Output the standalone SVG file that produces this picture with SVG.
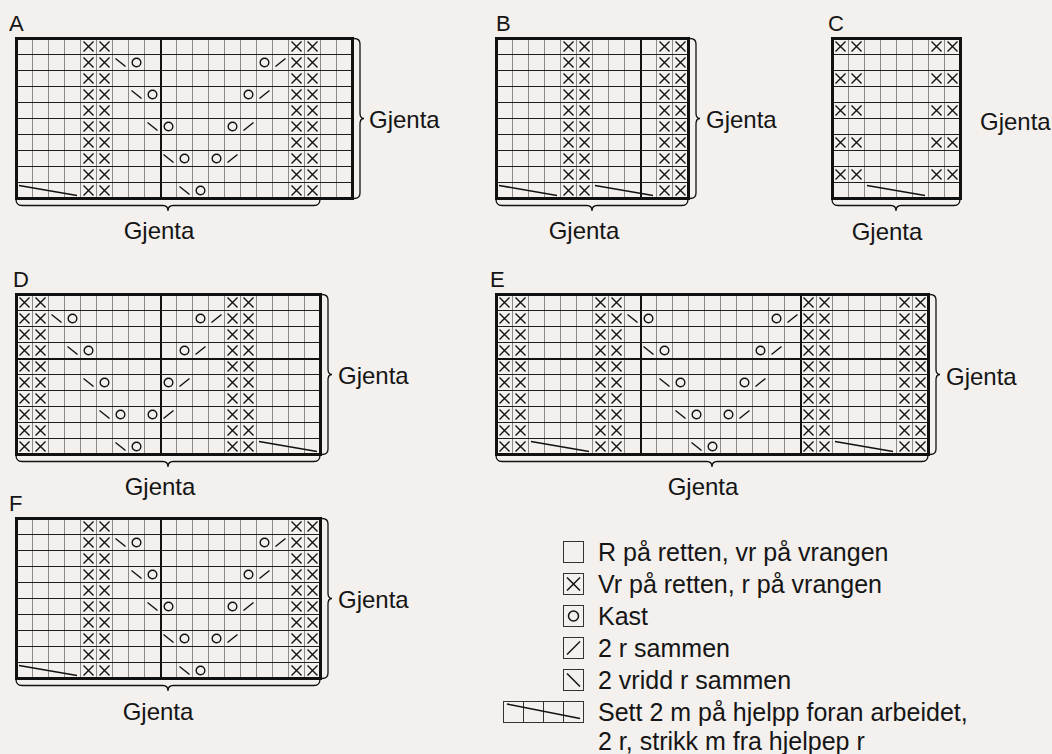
<svg xmlns="http://www.w3.org/2000/svg" xmlns:xlink="http://www.w3.org/1999/xlink" width="1052" height="754" viewBox="0 0 1052 754">
<style>
.t{font-family:"Liberation Sans",Arial,Helvetica,sans-serif;fill:#151515}
.lbl{font-size:22px}
.gj{font-size:24px}
.lg{font-size:25px}
.sym{fill:none;stroke:#111;stroke-width:1.4}
.bord{fill:none;stroke:#111;stroke-width:3}
.thk{stroke:#111;stroke-width:2}
.br{fill:none;stroke:#111;stroke-width:1.3}
.cab{stroke:#111;stroke-width:1.6}
.lbox{fill:none;stroke:#333;stroke-width:1}
.lsym{fill:none;stroke:#111;stroke-width:1.5}
</style>
<defs>
<pattern id="grid" patternUnits="userSpaceOnUse" x="0" y="6" width="16" height="16">
<rect x="0" y="0" width="1" height="16" fill="#8a8a8a"/>
<rect x="0" y="0" width="16" height="1" fill="#1e1e1e"/>
</pattern>
<path id="x" class="sym" d="M3.5,3.5L13.5,13.5M13.5,3.5L3.5,13.5"/>
<circle id="o" class="sym" cx="8.5" cy="8.5" r="4.3"/>
<path id="bs" class="sym" d="M3.5,4.5L13.5,12.5"/>
<path id="fs" class="sym" d="M3.5,12.5L13.5,4.5"/>
<path id="cab" class="cab" d="M3,3.5L61,13.5"/>
<g id="xx"><use href="#x"/><use href="#x" x="16"/></g>
<g id="xxcol"><use href="#xx"/><use href="#xx" y="16"/><use href="#xx" y="32"/><use href="#xx" y="48"/><use href="#xx" y="64"/><use href="#xx" y="80"/><use href="#xx" y="96"/><use href="#xx" y="112"/><use href="#xx" y="128"/><use href="#xx" y="144"/></g>
<g id="xxalt"><use href="#xx"/><use href="#xx" y="32"/><use href="#xx" y="64"/><use href="#xx" y="96"/><use href="#xx" y="128"/></g>
<g id="lace">
<use href="#bs" x="96" y="16"/><use href="#o" x="112" y="16"/><use href="#o" x="240" y="16"/><use href="#fs" x="256" y="16"/>
<use href="#bs" x="112" y="48"/><use href="#o" x="128" y="48"/><use href="#o" x="224" y="48"/><use href="#fs" x="240" y="48"/>
<use href="#bs" x="128" y="80"/><use href="#o" x="144" y="80"/><use href="#o" x="208" y="80"/><use href="#fs" x="224" y="80"/>
<use href="#bs" x="144" y="112"/><use href="#o" x="160" y="112"/><use href="#o" x="192" y="112"/><use href="#fs" x="208" y="112"/>
<use href="#bs" x="160" y="144"/><use href="#o" x="176" y="144"/>
</g>
</defs>
<rect width="1052" height="754" fill="#f3f0ed"/>

<g id="chart-a">
<text class="t lbl" x="9" y="31">A</text>
<rect x="16" y="38" width="336" height="160" fill="url(#grid)"/>
<use href="#xxcol" x="80" y="38"/><use href="#xxcol" x="288" y="38"/>
<use href="#lace" x="16" y="38"/>
<use href="#cab" x="16" y="182"/>
<line class="thk" x1="161" y1="38" x2="161" y2="198"/>
<rect class="bord" x="16.5" y="38.5" width="336" height="160"/>
<path class="br" d="M354,38.5Q360,38.5 360,44V113Q360,118.5 364,118.5Q360,118.5 360,124V193Q360,198.5 354,198.5"/>
<path class="br" d="M16,199Q16,205.5 22,205.5H163Q168,205.5 168,211Q168,205.5 173,205.5H314Q320,205.5 320,199"/>
<text class="t gj" x="369" y="128">Gjenta</text>
<text class="t gj" x="159" y="239" text-anchor="middle">Gjenta</text>
</g>

<g id="chart-b">
<text class="t lbl" x="496" y="31">B</text>
<rect x="496" y="38" width="192" height="160" fill="url(#grid)"/>
<use href="#xxcol" x="560" y="38"/><use href="#xxcol" x="656" y="38"/>
<use href="#cab" x="496" y="182"/><use href="#cab" x="592" y="182"/>
<line class="thk" x1="641" y1="38" x2="641" y2="198"/>
<rect class="bord" x="496.5" y="38.5" width="192" height="160"/>
<path class="br" d="M690,38.5Q696,38.5 696,44V113Q696,118.5 700,118.5Q696,118.5 696,124V193Q696,198.5 690,198.5"/>
<path class="br" d="M496,199Q496,205.5 502,205.5H587Q592,205.5 592,211Q592,205.5 597,205.5H682Q688,205.5 688,199"/>
<text class="t gj" x="706" y="128">Gjenta</text>
<text class="t gj" x="584" y="239" text-anchor="middle">Gjenta</text>
</g>

<g id="chart-c">
<text class="t lbl" x="828" y="31">C</text>
<rect x="832" y="38" width="128" height="160" fill="url(#grid)"/>
<use href="#xxalt" x="832" y="38"/><use href="#xxalt" x="928" y="38"/>
<use href="#cab" x="864" y="182"/>
<rect class="bord" x="832.5" y="38.5" width="128" height="160"/>
<path class="br" d="M832,199Q832,205.5 838,205.5H891Q896,205.5 896,211Q896,205.5 901,205.5H954Q960,205.5 960,199"/>
<text class="t gj" x="980" y="130">Gjenta</text>
<text class="t gj" x="887" y="240" text-anchor="middle">Gjenta</text>
</g>

<g id="chart-d">
<text class="t lbl" x="13" y="287">D</text>
<rect x="16" y="294" width="304" height="160" fill="url(#grid)"/>
<use href="#xxcol" x="16" y="294"/><use href="#xxcol" x="224" y="294"/>
<use href="#lace" x="-48" y="294"/>
<use href="#cab" x="256" y="438"/>
<line class="thk" x1="161" y1="294" x2="161" y2="454"/>
<line class="thk" x1="16" y1="359" x2="320" y2="359"/>
<rect class="bord" x="16.5" y="294.5" width="304" height="160"/>
<path class="br" d="M322,294.5Q328,294.5 328,300V369Q328,374.5 332,374.5Q328,374.5 328,380V449Q328,454.5 322,454.5"/>
<path class="br" d="M16,455Q16,461.5 22,461.5H163Q168,461.5 168,467Q168,461.5 173,461.5H314Q320,461.5 320,455"/>
<text class="t gj" x="338" y="384">Gjenta</text>
<text class="t gj" x="160" y="495" text-anchor="middle">Gjenta</text>
</g>

<g id="chart-e">
<text class="t lbl" x="490" y="287">E</text>
<rect x="496" y="294" width="432" height="160" fill="url(#grid)"/>
<use href="#xxcol" x="496" y="294"/><use href="#xxcol" x="592" y="294"/><use href="#xxcol" x="800" y="294"/><use href="#xxcol" x="896" y="294"/>
<use href="#lace" x="528" y="294"/>
<use href="#cab" x="528" y="438"/><use href="#cab" x="832" y="438"/>
<line class="thk" x1="641" y1="294" x2="641" y2="454"/>
<line class="thk" x1="801" y1="294" x2="801" y2="454"/>
<line class="thk" x1="496" y1="359" x2="928" y2="359"/>
<rect class="bord" x="496.5" y="294.5" width="432" height="160"/>
<path class="br" d="M930,294.5Q936,294.5 936,300V369Q936,374.5 940,374.5Q936,374.5 936,380V449Q936,454.5 930,454.5"/>
<path class="br" d="M496,455Q496,461.5 502,461.5H707Q712,461.5 712,467Q712,461.5 717,461.5H922Q928,461.5 928,455"/>
<text class="t gj" x="946" y="385">Gjenta</text>
<text class="t gj" x="703" y="495" text-anchor="middle">Gjenta</text>
</g>

<g id="chart-f">
<text class="t lbl" x="9" y="511">F</text>
<rect x="16" y="518" width="304" height="160" fill="url(#grid)"/>
<use href="#xxcol" x="80" y="518"/><use href="#xxcol" x="288" y="518"/>
<use href="#lace" x="16" y="518"/>
<use href="#cab" x="16" y="662"/>
<line class="thk" x1="161" y1="518" x2="161" y2="678"/>
<rect class="bord" x="16.5" y="518.5" width="304" height="160"/>
<path class="br" d="M322,518.5Q328,518.5 328,524V593Q328,598.5 332,598.5Q328,598.5 328,604V673Q328,678.5 322,678.5"/>
<path class="br" d="M16,679Q16,685.5 22,685.5H163Q168,685.5 168,691Q168,685.5 173,685.5H314Q320,685.5 320,679"/>
<text class="t gj" x="338" y="608">Gjenta</text>
<text class="t gj" x="158" y="720" text-anchor="middle">Gjenta</text>
</g>

<g id="legend">
<rect class="lbox" x="563.5" y="541.5" width="20" height="21"/>
<rect class="lbox" x="563.5" y="573.5" width="20" height="21"/>
<path class="lsym" d="M567,577.5L580,590.5M580,577.5L567,590.5"/>
<rect class="lbox" x="563.5" y="605.5" width="20" height="21"/>
<circle class="lsym" cx="573.5" cy="616" r="5"/>
<rect class="lbox" x="563.5" y="637.5" width="20" height="21"/>
<path class="lsym" d="M567,654.5L580,641.5"/>
<rect class="lbox" x="563.5" y="669.5" width="20" height="21"/>
<path class="lsym" d="M567,673.5L580,686.5"/>
<rect class="lbox" x="503.5" y="701.5" width="80" height="21"/>
<path class="lbox" d="M523.5,701.5V722.5M543.5,701.5V722.5M563.5,701.5V722.5"/>
<path class="cab" d="M507,704L580,718.5"/>
<text class="t lg" x="598" y="561">R på retten, vr på vrangen</text>
<text class="t lg" x="598" y="593">Vr på retten, r på vrangen</text>
<text class="t lg" x="598" y="625">Kast</text>
<text class="t lg" x="598" y="657">2 r sammen</text>
<text class="t lg" x="598" y="689">2 vridd r sammen</text>
<text class="t lg" x="598" y="721">Sett 2 m på hjelpp foran arbeidet,</text>
<text class="t lg" x="598" y="750">2 r, strikk m fra hjelpep r</text>
</g>
</svg>
